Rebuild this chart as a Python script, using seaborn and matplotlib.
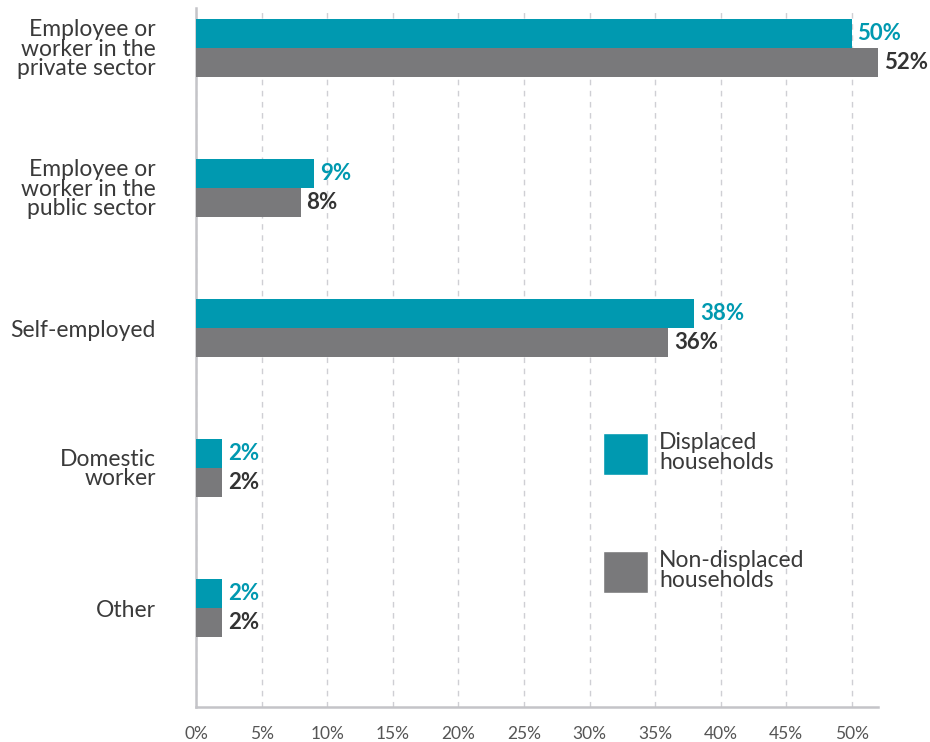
import matplotlib
matplotlib.use("Agg")
import matplotlib.pyplot as plt
from matplotlib.patches import Patch
import seaborn as sns
import pandas as pd

categories = ["Employee or\nworker in the\nprivate sector",
              "Employee or\nworker in the\npublic sector",
              "Self-employed",
              "Domestic\nworker",
              "Other"]
displaced = [50, 9, 38, 2, 2]
non_displaced = [52, 8, 36, 2, 2]
groups = ["Displaced households", "Non-displaced households"]
xticks = list(range(0, 55, 5))

teal = "#0099b0"
grey = "#79797b"

df = pd.DataFrame({
    "category": categories * 2,
    "share": displaced + non_displaced,
    "group": [groups[0]] * len(categories) + [groups[1]] * len(categories),
})

sns.set_style("white")
plt.rcParams["font.family"] = ["Lato", "DejaVu Sans"]

fig = plt.figure(figsize=(9.3, 7.42), dpi=100)
ax = fig.add_axes([0.2108, 0.0472, 0.7334, 0.9420])

sns.barplot(data=df, y="category", x="share", hue="group", orient="h",
            palette=[teal, grey], width=0.414, dodge=True, saturation=1,
            edgecolor="none", linewidth=0, legend=False, ax=ax, zorder=3)

ax.set_xlim(0, 52)
ax.set_ylim(4.707, -0.286)
ax.set_xticks(xticks)
ax.set_xticklabels([f"{t}%" for t in xticks], fontsize=12.5, color="#555555")
ax.tick_params(axis="x", length=5, color="#cccccc", pad=9)
ax.tick_params(axis="y", length=0, pad=29)
for lab in ax.get_yticklabels():
    lab.set_fontsize(16.5)
    lab.set_color("#3a3a3a")
    lab.set_linespacing(0.9)
    lab.set_horizontalalignment("right")
ax.set_xlabel("")
ax.set_ylabel("")

ax.grid(axis="x", linestyle=(0, (4, 4)), color="#cfcfd4", linewidth=1, zorder=0)
ax.grid(axis="y", visible=False)
for s in ["top", "right"]:
    ax.spines[s].set_visible(False)
for s in ["left", "bottom"]:
    ax.spines[s].set_color("#c4c4c8")
    ax.spines[s].set_linewidth(1.8)

for cont, color in zip(ax.containers, [teal, "#333333"]):
    ax.bar_label(cont, labels=[f"{v:.0f}%" for v in cont.datavalues],
                 padding=4, fontsize=16, fontweight="bold", color=color)

handles = [Patch(facecolor=teal), Patch(facecolor=grey)]
ax.legend(handles, ["Displaced\nhouseholds", "Non-displaced\nhouseholds"],
          loc="upper left", bbox_to_anchor=(0.583, 0.406), frameon=False,
          fontsize=16.5, handlelength=1.95, handleheight=2.4, labelspacing=3.3,
          handletextpad=0.5, borderaxespad=0)
for t in ax.get_legend().get_texts():
    t.set_color("#3a3a3a")
    t.set_linespacing(0.9)

fig.savefig("out.png", dpi=100)
